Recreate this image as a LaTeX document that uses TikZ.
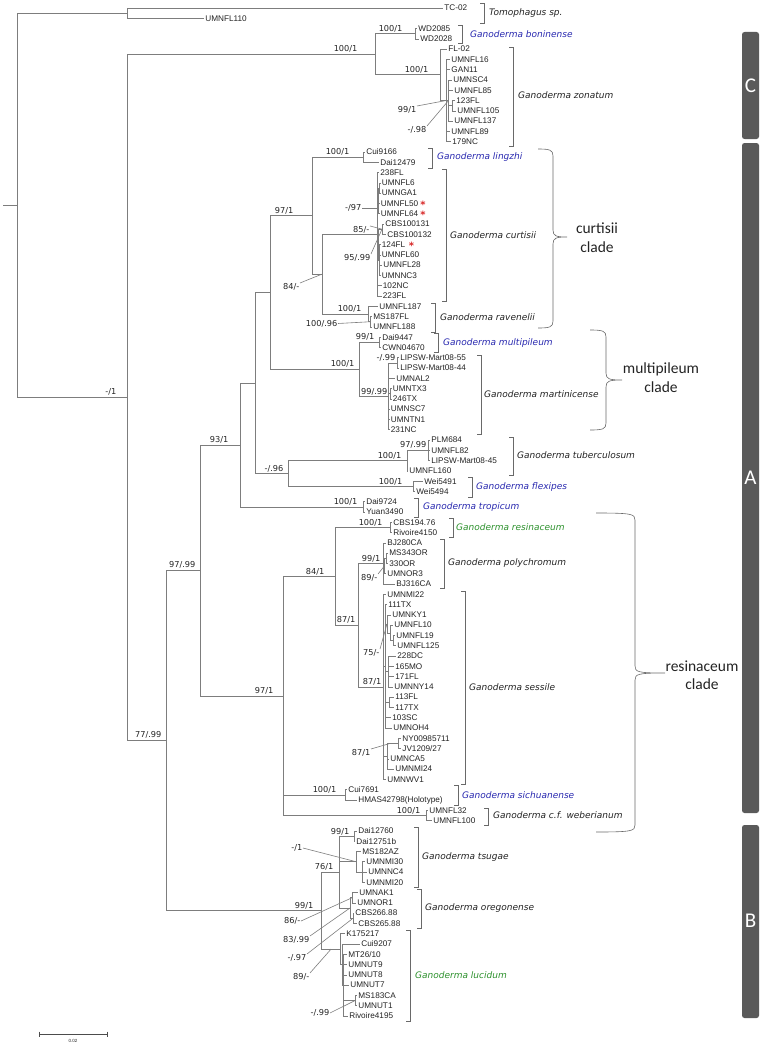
\documentclass[tikz,border=0pt]{standalone}
\usepackage{fontspec}
\setmainfont{Liberation Sans}
\newfontfamily\dvs{DejaVu Sans}
\newfontfamily\cbr{Carlito}
\usepackage{tikz}
\usetikzlibrary{calc}
\definecolor{treeg}{RGB}{125,125,125}
\definecolor{brkg}{RGB}{105,105,105}
\definecolor{txtc}{RGB}{35,35,35}
\definecolor{spblue}{RGB}{40,40,175}
\definecolor{spgreen}{RGB}{45,145,45}
\definecolor{barg}{RGB}{90,90,90}
\definecolor{astred}{RGB}{215,40,40}
\newcommand\spbr[3]{\draw[brk] (#1-4,#2) -- (#1,#2) -- (#1,#3) -- (#1-4,#3);}
\newcommand\cbrace[6]{\draw[brk] (#1,#3) .. controls (#2-3,#3) and (#2,#3+1) .. (#2,#3+7) -- (#2,#6-7) .. controls (#2,#6-1) and (#2+3,#6) .. (#5,#6) .. controls (#2+3,#6) and (#2,#6+1) .. (#2,#6+7) -- (#2,#4-7) .. controls (#2,#4-1) and (#2-3,#4) .. (#1,#4);}
\begin{document}
\begin{tikzpicture}
[x=1pt,y=-1pt,
 every edge/.style={draw=treeg,line width=0.6pt,to path={|- (\tikztotarget)}},
 br/.style={draw=treeg,line width=0.6pt},
 leaf/.style={anchor=west,inner sep=1.2pt,text=txtc,font=\fontsize{8.2}{9}\selectfont},
 bs/.style={anchor=south east,inner sep=0.4pt,text=txtc,font=\dvs\fontsize{8.2}{9}\selectfont},
 bsl/.style={bs,anchor=east},
 sp/.style={anchor=west,inner sep=0pt,text=txtc,font=\dvs\itshape\fontsize{9}{10}\selectfont},
 brk/.style={draw=brkg,line width=0.6pt},
 cl/.style={align=center,text=txtc,font=\cbr\fontsize{15.5}{18.5}\selectfont},
 grpbar/.style={fill=barg,rounded corners=2.5pt},
 barl/.style={text=white,font=\cbr\fontsize{21}{21}\selectfont},
 ast/.style={anchor=base,inner sep=0pt,text=astred,font=\dvs\bfseries\fontsize{10}{10}\selectfont}]
\useasboundingbox (0,0) rectangle (761,1046);

\node (tc02) at (443,8) [leaf] {TC-02};
\node (fl110) at (204,18.3) [leaf] {UMNFL110};
\node (wd85) at (417,28.6) [leaf] {WD2085};
\node (wd28) at (419,38.9) [leaf] {WD2028};
\node (fl02) at (447,49.1) [leaf] {FL-02};
\node (fl16) at (450,59.4) [leaf] {UMNFL16};
\node (gan11) at (450,69.7) [leaf] {GAN11};
\node (sc4) at (452,80) [leaf] {UMNSC4};
\node (fl85) at (453,90.3) [leaf] {UMNFL85};
\node (fl123) at (455,100.6) [leaf] {123FL};
\node (fl105) at (456,110.9) [leaf] {UMNFL105};
\node (fl137) at (453,121.1) [leaf] {UMNFL137};
\node (fl89) at (450,131.4) [leaf] {UMNFL89};
\node (nc179) at (451,141.7) [leaf] {179NC};
\node (cui9166) at (365,152) [leaf] {Cui9166};
\node (dai12479) at (379,162.3) [leaf] {Dai12479};
\node (fl238) at (379,172.6) [leaf] {238FL};
\node (fl6) at (380.5,182.9) [leaf] {UMNFL6};
\node (ga1) at (380.5,193.1) [leaf] {UMNGA1};
\node (fl50) at (379.5,203.4) [leaf] {UMNFL50};
\node (fl64) at (379.5,213.7) [leaf] {UMNFL64};
\node (cbs31) at (384,224) [leaf] {CBS100131};
\node (cbs32) at (386,234.3) [leaf] {CBS100132};
\node (fl124) at (380.5,244.6) [leaf] {124FL};
\node (fl60) at (380.5,254.9) [leaf] {UMNFL60};
\node (fl28) at (382,265.1) [leaf] {UMNFL28};
\node (nc3) at (380.5,275.4) [leaf] {UMNNC3};
\node (nc102) at (381.5,285.7) [leaf] {102NC};
\node (fl223) at (381.5,296) [leaf] {223FL};
\node (fl187) at (378,306.3) [leaf] {UMNFL187};
\node (ms187) at (372,316.6) [leaf] {MS187FL};
\node (fl188) at (372,326.9) [leaf] {UMNFL188};
\node (dai9447) at (381,337.1) [leaf] {Dai9447};
\node (cwn) at (381,347.4) [leaf] {CWN04670};
\node (lip55) at (399,357.7) [leaf] {LIPSW-Mart08-55};
\node (lip44) at (399,368) [leaf] {LIPSW-Mart08-44};
\node (al2) at (395,378.3) [leaf] {UMNAL2};
\node (tx3) at (391.5,388.6) [leaf] {UMNTX3};
\node (tx246) at (391.5,398.9) [leaf] {246TX};
\node (sc7) at (389.5,409.1) [leaf] {UMNSC7};
\node (tn1) at (389.5,419.4) [leaf] {UMNTN1};
\node (nc231) at (389.5,429.7) [leaf] {231NC};
\node (plm) at (430,440) [leaf] {PLM684};
\node (fl82) at (430,450.3) [leaf] {UMNFL82};
\node (lip45) at (430,460.6) [leaf] {LIPSW-Mart08-45};
\node (fl160) at (408,470.9) [leaf] {UMNFL160};
\node (wei91) at (423,481.1) [leaf] {Wei5491};
\node (wei94) at (415,491.4) [leaf] {Wei5494};
\node (dai9724) at (365,501.7) [leaf] {Dai9724};
\node (yuan) at (365,512) [leaf] {Yuan3490};
\node (cbs194) at (392,522.3) [leaf] {CBS194.76};
\node (riv4150) at (392,532.6) [leaf] {Rivoire4150};
\node (bj280) at (386,542.9) [leaf] {BJ280CA};
\node (ms343) at (388,553.1) [leaf] {MS343OR};
\node (or330) at (388,563.4) [leaf] {330OR};
\node (or3) at (386,573.7) [leaf] {UMNOR3};
\node (bj316) at (395,584) [leaf] {BJ316CA};
\node (mi22) at (386,594.3) [leaf] {UMNMI22};
\node (tx111) at (387,604.6) [leaf] {111TX};
\node (ky1) at (391,614.9) [leaf] {UMNKY1};
\node (fl10) at (393,625.1) [leaf] {UMNFL10};
\node (fl19) at (395,635.4) [leaf] {UMNFL19};
\node (fl125) at (396,645.7) [leaf] {UMNFL125};
\node (dc228) at (396,656) [leaf] {228DC};
\node (mo165) at (394,666.3) [leaf] {165MO};
\node (fl171) at (394,676.6) [leaf] {171FL};
\node (ny14) at (393,686.9) [leaf] {UMNNY14};
\node (fl113) at (394,697.1) [leaf] {113FL};
\node (tx117) at (394,707.4) [leaf] {117TX};
\node (sc103) at (391,717.7) [leaf] {103SC};
\node (oh4) at (392,728) [leaf] {UMNOH4};
\node (ny985) at (401,738.3) [leaf] {NY00985711};
\node (jv) at (401,748.6) [leaf] {JV1209/27};
\node (ca5) at (389,758.9) [leaf] {UMNCA5};
\node (mi24) at (394,769.1) [leaf] {UMNMI24};
\node (wv1) at (386,779.4) [leaf] {UMNWV1};
\node (cui7691) at (347,789.7) [leaf] {Cui7691};
\node (hmas) at (357,800) [leaf] {HMAS42798(Holotype)};
\node (fl32) at (428,810.3) [leaf] {UMNFL32};
\node (fl100) at (432,820.6) [leaf] {UMNFL100};
\node (dai60) at (357,830.9) [leaf] {Dai12760};
\node (dai51) at (355,841.1) [leaf] {Dai12751b};
\node (az182) at (361,851.4) [leaf] {MS182AZ};
\node (mi30) at (365,861.7) [leaf] {UMNMI30};
\node (nc4) at (367,872) [leaf] {UMNNC4};
\node (mi20) at (365,882.3) [leaf] {UMNMI20};
\node (ak1) at (358,892.6) [leaf] {UMNAK1};
\node (or1) at (356,902.9) [leaf] {UMNOR1};
\node (cbs66) at (354,913.1) [leaf] {CBS266.88};
\node (cbs65) at (357,923.4) [leaf] {CBS265.88};
\node (k175) at (345,933.7) [leaf] {K175217};
\node (cui9207) at (360,944) [leaf] {Cui9207};
\node (mt26) at (347,954.3) [leaf] {MT26/10};
\node (ut9) at (347,964.6) [leaf] {UMNUT9};
\node (ut8) at (347,974.9) [leaf] {UMNUT8};
\node (ut7) at (349,985.1) [leaf] {UMNUT7};
\node (ca183) at (357,995.4) [leaf] {MS183CA};
\node (ut1) at (357,1005.7) [leaf] {UMNUT1};
\node (riv4195) at (348,1016) [leaf] {Rivoire4195};

\coordinate (nstub) at (3,205.3);
\coordinate (root) at (17,205.3);
\coordinate (nout) at (127,13.2);
\coordinate (ning) at (127,397.4);
\coordinate (nc) at (375,54.3);
\coordinate (nbon) at (415,33.75);
\coordinate (nzon) at (440,74.8);
\coordinate (nz1) at (446,100.55);
\coordinate (nz2) at (448.5,100.55);
\coordinate (nz3) at (452,105.75);
\coordinate (n77) at (166,740.5);
\coordinate (n9799) at (200,570.4);
\coordinate (n93) at (240,444.9);
\coordinate (nmid) at (255,382.95);
\coordinate (ntop) at (270,292.5);
\coordinate (n97c) at (312,215.65);
\coordinate (nling) at (363,157.15);
\coordinate (ncr) at (322,274.15);
\coordinate (ncur) at (377,234.3);
\coordinate (ncu1) at (378,200.85);
\coordinate (ncu1a) at (379,188);
\coordinate (ncu2) at (378,244.6);
\coordinate (ncbs) at (382,229.15);
\coordinate (ncu3) at (379,260);
\coordinate (nrav) at (368,314);
\coordinate (nrav2) at (370,321.75);
\coordinate (nmp) at (359,369.3);
\coordinate (nmpl) at (379,342.25);
\coordinate (nmar) at (388,396.3);
\coordinate (nlip) at (397,362.85);
\coordinate (nmx) at (390,393.75);
\coordinate (ntf) at (288,473.4);
\coordinate (ntub) at (407,460.6);
\coordinate (ntub2) at (428,450.3);
\coordinate (nflx) at (413,486.25);
\coordinate (ntrop) at (363,506.85);
\coordinate (n97r) at (283,695.9);
\coordinate (n84) at (335,576.3);
\coordinate (nres) at (390,527.45);
\coordinate (n87) at (358,625.15);
\coordinate (npoly) at (383,563.45);
\coordinate (np2) at (384.5,565.95);
\coordinate (np3) at (386,558.25);
\coordinate (nses) at (383,686.85);
\coordinate (nsa) at (385,666.3);
\coordinate (nsa1) at (387,623.85);
\coordinate (nsa2) at (390,632.8);
\coordinate (nsa3) at (393,640.55);
\coordinate (nsa4) at (388,671.45);
\coordinate (nsa5) at (389,702.25);
\coordinate (nsb) at (387,756.3);
\coordinate (nsb1) at (398,743.45);
\coordinate (nsich) at (345,794.85);
\coordinate (nweb) at (426,815.45);
\coordinate (nb) at (321,910.6);
\coordinate (n76) at (339,872);
\coordinate (ndai) at (354,836);
\coordinate (ntsr) at (356,861.7);
\coordinate (ntsr2) at (362,872);
\coordinate (nore) at (350,908);
\coordinate (nak) at (352,897.75);
\coordinate (ncbs2) at (353,918.25);
\coordinate (nluc) at (340,949.15);
\coordinate (nl2) at (342,964.6);
\coordinate (nl3) at (343,985.15);
\coordinate (nms) at (355,1000.55);
\coordinate (k97) at (377,208);
\coordinate (k87) at (390,743.45);
\coordinate (kl) at (331,949.15);

\draw[br] (nstub) -- (root);
\draw (root) edge (nout) edge (ning);
\draw (nout) edge (tc02) edge (fl110);
\draw (ning) edge (nc) edge (n77);
\draw (nc) edge (nbon) edge (nzon);
\draw (nbon) edge (wd85) edge (wd28);
\draw (nzon) edge (fl02) edge (nz1);
\draw (nz1) edge (fl16) edge (gan11) edge (nz2) edge (fl89) edge (nc179);
\draw (nz2) edge (sc4) edge (fl85) edge (nz3) edge (fl137);
\draw (nz3) edge (fl123) edge (fl105);
\draw (n77) edge (n9799) edge (nb);
\draw (n9799) edge (n93) edge (n97r);
\draw (n93) edge (nmid) edge (ntrop);
\draw (nmid) edge (ntop) edge (ntf);
\draw (ntop) edge (n97c) edge (nmp);
\draw (n97c) edge (nling) edge (ncr);
\draw (nling) edge (cui9166) edge (dai12479);
\draw (ncr) edge (ncur) edge (nrav);
\draw (ncur) edge (fl238) edge (ncu1) edge (ncu2) edge (nc102) edge (fl223);
\draw (ncu1) edge (ncu1a) edge (fl50) edge (fl64);
\draw (ncu1a) edge (fl6) edge (ga1);
\draw (ncu2) edge (ncbs) edge (ncu3);
\draw (ncbs) edge (cbs31) edge (cbs32);
\draw (ncu3) edge (fl124) edge (fl60) edge (fl28) edge (nc3);
\draw (nrav) edge (fl187) edge (nrav2);
\draw (nrav2) edge (ms187) edge (fl188);
\draw (nmp) edge (nmpl) edge (nmar);
\draw (nmpl) edge (dai9447) edge (cwn);
\draw (nmar) edge (nlip) edge (al2) edge (nmx) edge (sc7) edge (tn1) edge (nc231);
\draw (nlip) edge (lip55) edge (lip44);
\draw (nmx) edge (tx3) edge (tx246);
\draw (ntf) edge (ntub) edge (nflx);
\draw (ntub) edge (ntub2) edge (fl160);
\draw (ntub2) edge (plm) edge (fl82) edge (lip45);
\draw (nflx) edge (wei91) edge (wei94);
\draw (ntrop) edge (dai9724) edge (yuan);
\draw (n97r) edge (n84) edge (nsich) edge (nweb);
\draw (n84) edge (nres) edge (n87);
\draw (nres) edge (cbs194) edge (riv4150);
\draw (n87) edge (npoly) edge (nses);
\draw (npoly) edge (bj280) edge (np2) edge (bj316);
\draw (np2) edge (np3) edge (or3);
\draw (np3) edge (ms343) edge (or330);
\draw (nses) edge (mi22) edge (nsa) edge (nsb) edge (wv1);
\draw (nsa) edge (tx111) edge (nsa1) edge (nsa4) edge (nsa5) edge (sc103) edge (oh4);
\draw (nsa1) edge (ky1) edge (nsa2);
\draw (nsa2) edge (fl10) edge (nsa3);
\draw (nsa3) edge (fl19) edge (fl125);
\draw (nsa4) edge (dc228) edge (mo165) edge (fl171) edge (ny14);
\draw (nsa5) edge (fl113) edge (tx117);
\draw (nsb) edge (nsb1) edge (ca5) edge (mi24);
\draw (nsb1) edge (ny985) edge (jv);
\draw (nsich) edge (cui7691) edge (hmas);
\draw (nweb) edge (fl32) edge (fl100);
\draw (nb) edge (n76) edge (nluc);
\draw (n76) edge (ndai) edge (ntsr) edge (nore);
\draw (ndai) edge (dai60) edge (dai51);
\draw (ntsr) edge (az182) edge (ntsr2);
\draw (ntsr2) edge (mi30) edge (nc4) edge (mi20);
\draw (nore) edge (nak) edge (ncbs2);
\draw (nak) edge (ak1) edge (or1);
\draw (ncbs2) edge (cbs66) edge (cbs65);
\draw (nluc) edge (k175) edge (nl2);
\draw (nl2) edge (cui9207) edge (nl3);
\draw (nl3) edge (mt26) edge (ut9) edge (ut8) edge (ut7) edge (nms) edge (riv4195);
\draw (nms) edge (ca183) edge (ut1);

\node (b1) at (117,396) [bs] {-/1};
\node (b2) at (162,739) [bs] {77/.99};
\node (b3) at (358,53) [bs] {100/1};
\node (b4) at (403,32.5) [bs] {100/1};
\node (b5) at (429,73.5) [bs] {100/1};
\node (b6) at (417,110) [bsl] {99/1};
\node (b7) at (427,130) [bsl] {-/.98};
\node (b8) at (196,569) [bs] {97/.99};
\node (b9) at (229,443.5) [bs] {93/1};
\node (b10) at (294,214.5) [bs] {97/1};
\node (b11) at (350,156) [bs] {100/1};
\node (b12) at (300,287) [bsl] {84/-};
\node (b13) at (362,208) [bsl] {-/97};
\node (b14) at (370,230) [bsl] {85/-};
\node (b15) at (371,258) [bsl] {95/.99};
\node (b16) at (362,313) [bs] {100/1};
\node (b17) at (338,323.5) [bsl] {100/.96};
\node (b18) at (375,341) [bs] {99/1};
\node (b19) at (355,368) [bs] {100/1};
\node (b20) at (396,362) [bs] {-/.99};
\node (b21) at (388,395.5) [bs] {99/.99};
\node (b22) at (427,449) [bs] {97/.99};
\node (b23) at (402,459.5) [bs] {100/1};
\node (b24) at (403,485.5) [bs] {100/1};
\node (b25) at (284,472.5) [bs] {-/.96};
\node (b26) at (358,506) [bs] {100/1};
\node (b27) at (383,526.5) [bs] {100/1};
\node (b28) at (381,559) [bsl] {99/1};
\node (b29) at (378,578) [bsl] {89/-};
\node (b30) at (325,575.5) [bs] {84/1};
\node (b31) at (356,624) [bs] {87/1};
\node (b32) at (382,686) [bs] {87/1};
\node (b33) at (380,653) [bsl] {75/-};
\node (b34) at (371,753) [bsl] {87/1};
\node (b35) at (337,794) [bs] {100/1};
\node (b36) at (421,814.5) [bs] {100/1};
\node (b37) at (274,695) [bs] {97/1};
\node (b38) at (314,909.5) [bs] {99/1};
\node (b39) at (334,871) [bs] {76/1};
\node (b40) at (350,835.5) [bs] {99/1};
\node (b41) at (303,848) [bsl] {-/1};
\node (b42) at (301,921) [bsl] {86/-};
\node (b43) at (310,940) [bsl] {83/.99};
\node (b44) at (307,958) [bsl] {-/.97};
\node (b45) at (310,977) [bsl] {89/-};
\node (b46) at (330,1013) [bsl] {-/.99};

\draw[br] (b6.north east) -- (nz1);
\draw[br] (b7.north east) -- (nz2);
\draw[br] (b12.north east) -- (ncr);
\draw[br] (b13.east) -- (k97);
\draw[br] (b14.north east) -- (ncbs);
\draw[br] (b15.north east) -- (ncbs);
\draw[br] (b17.east) -- (nrav2);
\draw[br] (b29.north east) -- (np2);
\draw[br] (b33.north east) -- (nsa1);
\draw[br] (b34.north east) -- (k87);
\draw[br] (b41.east) -- (ntsr);
\draw[br] (b42.east) -- (nak);
\draw[br] (b43.north east) -- (nore);
\draw[br] (b44.north east) -- (ncbs2);
\draw[br] (b45.north east) -- (kl);
\draw[br] (b46.east) -- (nms);

\node (r1) at (423,208.4) [ast] {*};
\node (r2) at (423,218.7) [ast] {*};
\node (r3) at (411.5,249.6) [ast] {*};

\spbr{484}{3.5}{23}
\spbr{462}{25}{43}
\spbr{513}{47}{146}
\spbr{432}{148}{168}
\spbr{446}{169}{301}
\spbr{435}{303}{332}
\spbr{438}{333}{352}
\spbr{481}{355}{434}
\spbr{513}{437}{475}
\spbr{472}{477}{497}
\spbr{418}{498}{517}
\spbr{453}{518}{537}
\spbr{444}{539}{588}
\spbr{465}{591}{784}
\spbr{458}{785}{805}
\spbr{488}{808}{825}
\spbr{418}{827}{887}
\spbr{421}{889}{928}
\spbr{410}{930}{1021}

\node (s1) at (489,13.5) [sp] {Tomophagus sp.};
\node (s2) at (470,34) [sp,text=spblue] {Ganoderma boninense};
\node (s3) at (518,95) [sp] {Ganoderma zonatum};
\node (s4) at (437,157.5) [sp,text=spblue] {Ganoderma lingzhi};
\node (s5) at (450,235) [sp] {Ganoderma curtisii};
\node (s6) at (440,317) [sp] {Ganoderma ravenelii};
\node (s7) at (443,343) [sp,text=spblue] {Ganoderma multipileum};
\node (s8) at (484,394) [sp] {Ganoderma martinicense};
\node (s9) at (517,455) [sp] {Ganoderma tuberculosum};
\node (s10) at (476,487) [sp,text=spblue] {Ganoderma flexipes};
\node (s11) at (423,507) [sp,text=spblue] {Ganoderma tropicum};
\node (s12) at (456,527.5) [sp,text=spgreen] {Ganoderma resinaceum};
\node (s13) at (448,563) [sp] {Ganoderma polychromum};
\node (s14) at (469,687) [sp] {Ganoderma sessile};
\node (s15) at (462,795) [sp,text=spblue] {Ganoderma sichuanense};
\node (s16) at (493,815.5) [sp] {Ganoderma c.f. weberianum};
\node (s17) at (422,857) [sp] {Ganoderma tsugae};
\node (s18) at (425,908) [sp] {Ganoderma oregonense};
\node (s19) at (415,975) [sp,text=spgreen] {Ganoderma lucidum};

\cbrace{538}{553}{149}{328}{567}{237}
\cbrace{590}{606}{330}{430}{622}{380}
\cbrace{596}{635}{513}{832}{665}{673}
\node (c1) at (597,237.5) [cl] {curtisii\\clade};
\node (c2) at (661,377.5) [cl] {multipileum\\clade};
\node (c3) at (702,675) [cl] {resinaceum\\clade};

\fill[grpbar] (742,32) rectangle (759,139);
\fill[grpbar] (742,143) rectangle (759,813);
\fill[grpbar] (742,825) rectangle (759,1018);
\node (gc) at (750.5,86) [barl] {C};
\node (ga) at (750.5,478) [barl] {A};
\node (gb) at (750.5,921) [barl] {B};

\coordinate (sb1) at (39,1034);
\coordinate (sb2) at (107,1034);
\draw[draw=black!70,line width=0.9pt] (sb1) -- (sb2);
\draw[draw=black!70,line width=0.8pt] ($(sb1)+(0,-2.5)$) -- ($(sb1)+(0,2.5)$) ($(sb2)+(0,-2.5)$) -- ($(sb2)+(0,2.5)$);
\node (sbl) at (73,1041) [text=txtc,font=\fontsize{4.5}{5}\selectfont,inner sep=0pt] {0.02};
\end{tikzpicture}
\end{document}
